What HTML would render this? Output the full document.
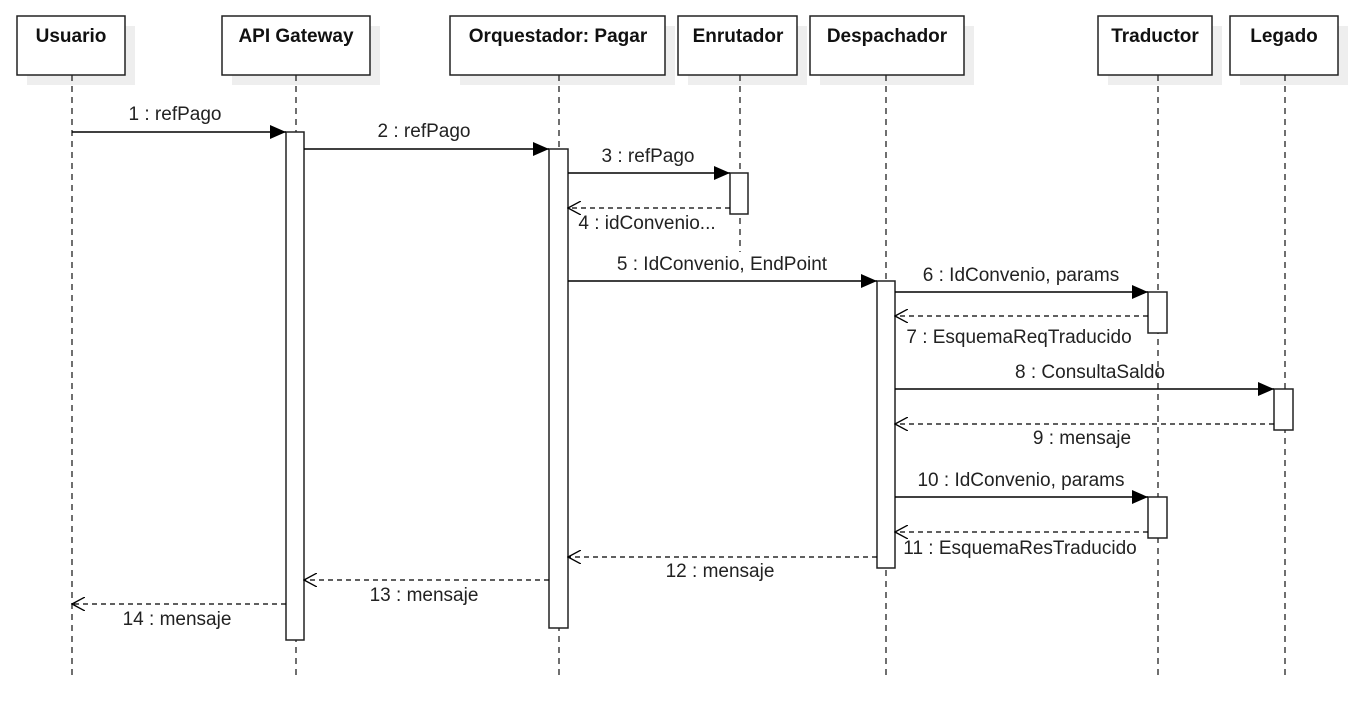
<!DOCTYPE html>
<html><head><meta charset="utf-8"><style>
html,body{margin:0;padding:0;background:#fff;}
svg{display:block;}
text{font-family:"Liberation Sans",Arial,sans-serif;font-size:19px;fill:#222;}
.h{font-weight:bold;font-size:19px;fill:#111;}
</style></head><body>
<svg width="1358" height="702" viewBox="0 0 1358 702">
<defs>
<marker id="f" markerWidth="16" markerHeight="14" refX="16" refY="7" orient="auto" markerUnits="userSpaceOnUse"><path d="M0,0 L16,7 L0,14 Z" fill="#000"/></marker>
<marker id="o" markerWidth="14" markerHeight="14" refX="13" refY="7" orient="auto" markerUnits="userSpaceOnUse"><path d="M0,0 L13,7 L0,14" fill="none" stroke="#000" stroke-width="1.3"/></marker>
</defs>
<g fill="#eee">
<rect x="27" y="26" width="108" height="59"/><rect x="232" y="26" width="148" height="59"/><rect x="460" y="26" width="215" height="59"/><rect x="688" y="26" width="119" height="59"/><rect x="820" y="26" width="154" height="59"/><rect x="1108" y="26" width="114" height="59"/><rect x="1240" y="26" width="108" height="59"/>
</g>
<g fill="#fff" stroke="#222" stroke-width="1.5">
<rect x="17" y="16" width="108" height="59"/><rect x="222" y="16" width="148" height="59"/><rect x="450" y="16" width="215" height="59"/><rect x="678" y="16" width="119" height="59"/><rect x="810" y="16" width="154" height="59"/><rect x="1098" y="16" width="114" height="59"/><rect x="1230" y="16" width="108" height="59"/>
</g>
<g text-anchor="middle">
<text class="h" x="71" y="42">Usuario</text><text class="h" x="296" y="42">API Gateway</text><text class="h" x="558" y="42">Orquestador: Pagar</text><text class="h" x="738" y="42">Enrutador</text><text class="h" x="887" y="42">Despachador</text><text class="h" x="1155" y="42">Traductor</text><text class="h" x="1284" y="42">Legado</text>
</g>
<g stroke="#222" stroke-width="1.3" stroke-dasharray="6,5">
<line x1="72" y1="75" x2="72" y2="676"/><line x1="296" y1="75" x2="296" y2="676"/><line x1="559" y1="75" x2="559" y2="676"/><line x1="740" y1="75" x2="740" y2="252"/><line x1="886" y1="75" x2="886" y2="676"/><line x1="1158" y1="75" x2="1158" y2="676"/><line x1="1285" y1="75" x2="1285" y2="676"/>
</g>
<g fill="#fff" stroke="#222" stroke-width="1.5">
<rect x="286" y="132" width="18" height="508"/><rect x="549" y="149" width="19" height="479"/><rect x="730" y="173" width="18" height="41"/><rect x="877" y="281" width="18" height="287"/><rect x="1148" y="292" width="19" height="41"/><rect x="1148" y="497" width="19" height="41"/><rect x="1274" y="389" width="19" height="41"/>
</g>
<g stroke="#000" stroke-width="1.5" fill="none">
<line x1="72" y1="132" x2="286" y2="132" marker-end="url(#f)"/>
<line x1="304" y1="149" x2="549" y2="149" marker-end="url(#f)"/>
<line x1="568" y1="173" x2="730" y2="173" marker-end="url(#f)"/>
<line x1="568" y1="281" x2="877" y2="281" marker-end="url(#f)"/>
<line x1="895" y1="292" x2="1148" y2="292" marker-end="url(#f)"/>
<line x1="895" y1="389" x2="1274" y2="389" marker-end="url(#f)"/>
<line x1="895" y1="497" x2="1148" y2="497" marker-end="url(#f)"/>
</g>
<g stroke="#000" stroke-width="1.3" fill="none" stroke-dasharray="5,4">
<line x1="730" y1="208" x2="568" y2="208" marker-end="url(#o)"/>
<line x1="1148" y1="316" x2="895" y2="316" marker-end="url(#o)"/>
<line x1="1274" y1="424" x2="895" y2="424" marker-end="url(#o)"/>
<line x1="1148" y1="532" x2="895" y2="532" marker-end="url(#o)"/>
<line x1="877" y1="557" x2="568" y2="557" marker-end="url(#o)"/>
<line x1="549" y1="580" x2="304" y2="580" marker-end="url(#o)"/>
<line x1="286" y1="604" x2="72" y2="604" marker-end="url(#o)"/>
</g>
<g text-anchor="middle">
<text x="175" y="120">1 : refPago</text>
<text x="424" y="137">2 : refPago</text>
<text x="648" y="162">3 : refPago</text>
<text x="647" y="229">4 : idConvenio...</text>
<text x="722" y="270">5 : IdConvenio, EndPoint</text>
<text x="1021" y="281">6 : IdConvenio, params</text>
<text x="1019" y="343">7 : EsquemaReqTraducido</text>
<text x="1090" y="378">8 : ConsultaSaldo</text>
<text x="1082" y="444">9 : mensaje</text>
<text x="1021" y="486">10 : IdConvenio, params</text>
<text x="1020" y="554">11 : EsquemaResTraducido</text>
<text x="720" y="577">12 : mensaje</text>
<text x="424" y="601">13 : mensaje</text>
<text x="177" y="625">14 : mensaje</text>
</g>
</svg>
</body></html>
